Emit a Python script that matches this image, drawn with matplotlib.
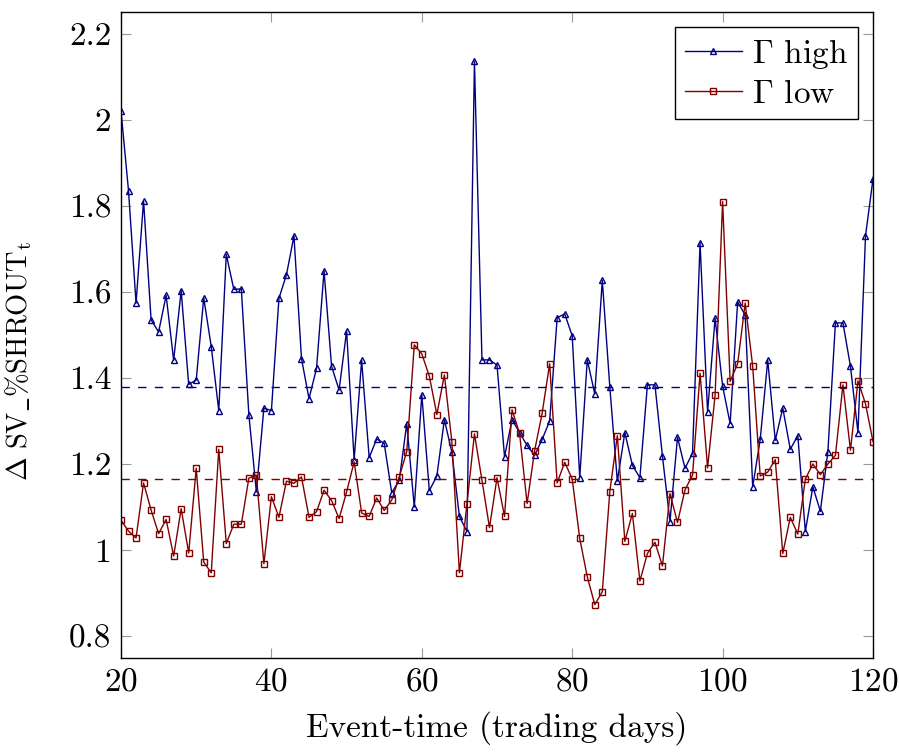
import numpy as np
import matplotlib
matplotlib.use("Agg")
import matplotlib.pyplot as plt
from matplotlib.ticker import FuncFormatter

# event days 20..120
days = list(range(20, 121))

gamma_high = [
    2.021, 1.835, 1.574, 1.812, 1.535, 1.507, 1.592, 1.441, 1.603, 1.385,
    1.395, 1.586, 1.473, 1.324, 1.687, 1.606, 1.607, 1.315, 1.135, 1.330,
    1.324, 1.585, 1.640, 1.730, 1.445, 1.352, 1.422, 1.649, 1.427, 1.372,
    1.509, 1.210, 1.441, 1.215, 1.258, 1.248, 1.133, 1.162, 1.294, 1.100,
    1.361, 1.138, 1.172, 1.303, 1.227, 1.078, 1.043, 2.136, 1.442, 1.442,
    1.430, 1.217, 1.303, 1.273, 1.243, 1.220, 1.257, 1.300, 1.540, 1.549,
    1.498, 1.168, 1.442, 1.363, 1.627, 1.379, 1.160, 1.273, 1.197, 1.168,
    1.384, 1.384, 1.218, 1.066, 1.262, 1.190, 1.225, 1.714, 1.321, 1.539,
    1.381, 1.294, 1.577, 1.546, 1.147, 1.257, 1.441, 1.255, 1.330, 1.234,
    1.266, 1.043, 1.147, 1.090, 1.229, 1.528, 1.528, 1.427, 1.273, 1.730,
    1.863,
]

gamma_low = [
    1.069, 1.044, 1.028, 1.156, 1.093, 1.038, 1.071, 0.986, 1.096, 0.993,
    1.190, 0.972, 0.947, 1.234, 1.015, 1.060, 1.060, 1.167, 1.174, 0.968,
    1.124, 1.076, 1.160, 1.155, 1.170, 1.076, 1.089, 1.139, 1.115, 1.073,
    1.135, 1.205, 1.086, 1.078, 1.121, 1.092, 1.116, 1.170, 1.229, 1.477,
    1.456, 1.404, 1.315, 1.407, 1.251, 0.947, 1.107, 1.270, 1.162, 1.052,
    1.168, 1.078, 1.326, 1.271, 1.108, 1.231, 1.318, 1.433, 1.156, 1.204,
    1.165, 1.027, 0.938, 0.873, 0.903, 1.136, 1.266, 1.020, 1.085, 0.928,
    0.992, 1.018, 0.963, 1.131, 1.064, 1.140, 1.174, 1.411, 1.191, 1.360,
    1.810, 1.392, 1.433, 1.574, 1.427, 1.172, 1.181, 1.210, 0.992, 1.076,
    1.037, 1.165, 1.200, 1.175, 1.200, 1.220, 1.384, 1.232, 1.393, 1.340,
    1.252,
]

# average levels (dashed)
mean_high = 1.379
mean_low = 1.165

x_ticks = [20, 40, 60, 80, 100, 120]
y_ticks = [0.8, 1.0, 1.2, 1.4, 1.6, 1.8, 2.0, 2.2]

blue = "#000080"
red = "#800000"

plt.rcParams["font.family"] = ["cmr10", "DejaVu Serif"]
plt.rcParams["mathtext.fontset"] = "cm"
plt.rcParams["axes.formatter.use_mathtext"] = True

fig = plt.figure(figsize=(8.99, 7.53), dpi=100)
ax = fig.add_axes([0.1346, 0.1262, 0.8365, 0.858])

ax.plot(days, gamma_high, color=blue, lw=1.0, marker="^", ms=5,
        mfc="none", mec=blue, mew=1.0, label=r"$\Gamma$ high")
ax.plot(days, gamma_low, color=red, lw=1.0, marker="s", ms=5,
        mfc="none", mec=red, mew=1.0, label=r"$\Gamma$ low")

ax.axhline(mean_high, color=blue, lw=1.0, ls=(0, (6, 6)))
ax.axhline(mean_low, color=red, lw=1.0, ls=(0, (6, 6)))

ax.set_xlim(20, 120)
ax.set_ylim(0.749, 2.251)
ax.set_xticks(x_ticks)
ax.set_yticks(y_ticks)
ax.yaxis.set_major_formatter(FuncFormatter(lambda v, p: f"{v:g}"))
ax.tick_params(direction="in", length=7, width=0.8, color="#999999",
               top=True, right=True, labelsize=24, pad=7)
for s in ax.spines.values():
    s.set_linewidth(1.0)

ax.set_xlabel("Event-time (trading days)", fontsize=24, labelpad=10)
ax.set_ylabel(r"$\Delta\ \mathrm{SV\_\%SHROUT}_\mathrm{t}$", fontsize=20.5)
ax.yaxis.set_label_coords(-0.116, 0.46)

leg = ax.legend(loc="upper right", fontsize=24, frameon=True, fancybox=False,
                edgecolor="black", framealpha=1, handlelength=1.7,
                handletextpad=0.3, borderpad=0.3, labelspacing=0.25,
                borderaxespad=0.45)
leg.get_frame().set_linewidth(1.0)

fig.savefig("out.png", dpi=100)
